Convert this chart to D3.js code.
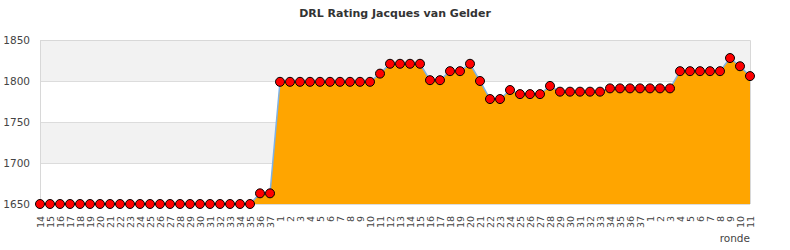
<!DOCTYPE html>
<html>
<head>
<meta charset="utf-8">
<script src="https://cdn.jsdelivr.net/npm/d3@7"></script>
<style>
  body { margin: 0; background: #fff; }
  svg { display: block; font-family: "DejaVu Sans", sans-serif; }
</style>
</head>
<body>
<div id="container"></div>
<script>
// ronde labels (three seasons)
let rounds = [
  "14","15","16","17","18","19","20","21","22","23","24","25","26","27","28","29","30","31","32","33","34","35","36","37",
  "1","2","3","4","5","6","7","8","9","10","11","12","13","14","15","16","17","18","19","20","21","22","23","24","25","26","27","28","29","30","31","32","33","34","35","36","37",
  "1","2","3","4","5","6","7","8","9","10","11"
];

// rating per round
let rating = [
  1650,1650,1650,1650,1650,1650,1650,1650,1650,1650,1650,1650,1650,1650,1650,1650,1650,1650,1650,1650,1650,1650,1663,1663,
  1799,1799,1799,1799,1799,1799,1799,1799,1799,1799,1809,1821,1821,1821,1821,1801,1801,1812,1812,1821,1800,1778,1778,1789,1784,1784,1784,1794,1787,1787,1787,1787,1787,1791,1791,1791,1791,
  1791,1791,1791,1812,1812,1812,1812,1812,1828,1818,1806
];

let yTicks = [1650, 1700, 1750, 1800, 1850];

let width = 790;
let height = 250;
let margin = { top: 40, right: 40, bottom: 46, left: 40 };

let svg = d3.select('#container')
  .append("svg")
  .attr("width", width)
  .attr("height", height);

let x = d3.scaleLinear()
  .domain([0, rating.length - 1])
  .range([margin.left, width - margin.right]);

let y = d3.scaleLinear()
  .domain([1650, 1850])
  .range([height - margin.bottom, margin.top]);

//grey bands
for (let i = 0; i < yTicks.length - 1; i++) {
  if (i % 2 == 1) {
    svg.append("rect")
      .attr("x", margin.left)
      .attr("y", y(yTicks[i + 1]))
      .attr("width", x(rating.length - 1) - margin.left)
      .attr("height", y(yTicks[i]) - y(yTicks[i + 1]))
      .attr("fill", "#f2f2f2");
  }
}

//grid lines
svg.selectAll(".grid")
  .data(yTicks)
  .enter()
  .append("line")
  .attr("x1", margin.left)
  .attr("x2", x(rating.length - 1))
  .attr("y1", d => y(d) + 0.5)
  .attr("y2", d => y(d) + 0.5)
  .attr("stroke", "#dcdcdc");

//area
let area = d3.area()
  .x((d, i) => x(i))
  .y0(y(1650))
  .y1(d => y(d));

svg.append("path")
  .datum(rating)
  .attr("d", area)
  .attr("fill", "#ffa500");

let line = d3.line()
  .x((d, i) => x(i))
  .y(d => y(d));

svg.append("path")
  .datum(rating)
  .attr("d", line)
  .attr("fill", "none")
  .attr("stroke", "#7eb2e6")
  .attr("stroke-width", 1.5);

//frame
svg.append("path")
  .attr("d", "M" + (margin.left + 0.5) + "," + (y(1650)) + "V" + (y(1850) + 0.5) + "H" + (x(rating.length - 1) + 0.5) + "V" + y(1650))
  .attr("fill", "none")
  .attr("stroke", "#d8d8d8");

//markers
svg.selectAll("circle")
  .data(rating)
  .enter()
  .append("circle")
  .attr("cx", (d, i) => x(i))
  .attr("cy", d => y(d))
  .attr("r", 4.5)
  .attr("fill", "#ff0000")
  .attr("stroke", "#000")
  .attr("stroke-width", 1);

//y axis labels
svg.selectAll(".ylab")
  .data(yTicks)
  .enter()
  .append("text")
  .attr("x", 30)
  .attr("y", d => y(d) + 4)
  .attr("text-anchor", "end")
  .attr("font-size", 10.5)
  .attr("fill", "#444")
  .text(d => d);

//x axis labels
svg.selectAll(".xlab")
  .data(rounds)
  .enter()
  .append("text")
  .attr("transform", (d, i) => "translate(" + (x(i) + 3.5) + "," + 216 + ") rotate(-90)")
  .attr("text-anchor", "end")
  .attr("font-size", 9.5)
  .attr("fill", "#444")
  .text(d => d);

svg.append("text")
  .attr("x", 750)
  .attr("y", 242)
  .attr("text-anchor", "end")
  .attr("font-size", 10.5)
  .attr("fill", "#444")
  .text("ronde");

svg.append("text")
  .attr("x", 395)
  .attr("y", 17)
  .attr("text-anchor", "middle")
  .attr("font-size", 11)
  .attr("font-weight", "bold")
  .attr("fill", "#333")
  .text("DRL Rating Jacques van Gelder");
</script>
</body>
</html>
